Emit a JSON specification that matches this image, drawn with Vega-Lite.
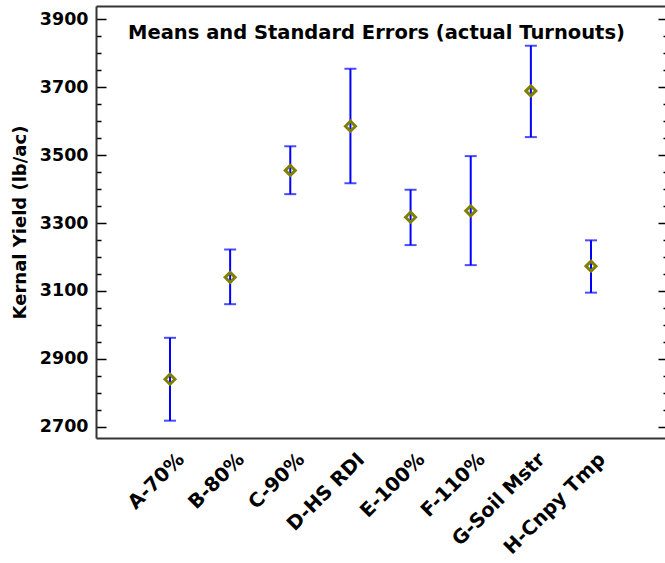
{
  "$schema": "https://vega.github.io/schema/vega-lite/v6.json",
  "width": 569,
  "height": 432,
  "autosize": {"type": "none"},
  "padding": {"left": 96, "top": 6, "right": 0, "bottom": 125},
  "background": "white",
  "config": {"view": {"stroke": null}, "font": "DejaVu Sans"},
  "title": {
    "text": "Means and Standard Errors (actual Turnouts)",
    "font": "DejaVu Sans",
    "fontSize": 19.5,
    "fontWeight": "bold",
    "color": "black",
    "anchor": "middle",
    "baseline": "alphabetic",
    "offset": -33,
    "dy": 19,
    "dx": -4
  },
  "data": {
    "values": [
      {"treatment": "A-70%", "mean": 2840, "lo": 2718, "hi": 2962},
      {"treatment": "B-80%", "mean": 3140, "lo": 3061, "hi": 3222},
      {"treatment": "C-90%", "mean": 3455, "lo": 3385, "hi": 3526},
      {"treatment": "D-HS RDI", "mean": 3585, "lo": 3417, "hi": 3754},
      {"treatment": "E-100%", "mean": 3317, "lo": 3235, "hi": 3398},
      {"treatment": "F-110%", "mean": 3336, "lo": 3176, "hi": 3497},
      {"treatment": "G-Soil Mstr", "mean": 3689, "lo": 3553, "hi": 3822},
      {"treatment": "H-Cnpy Tmp", "mean": 3173, "lo": 3095, "hi": 3249}
    ]
  },
  "layer": [
    {
      "mark": {"type": "rule", "color": "#0000ff", "strokeWidth": 2},
      "encoding": {
        "x": {
          "field": "treatment", "type": "nominal", "sort": null,
          "scale": {"type": "band", "paddingInner": 0, "paddingOuter": 0.73},
          "axis": {
            "orient": "bottom", "labelAngle": -45, "labelAlign": "right", "labelBaseline": "middle",
            "ticks": false, "domain": true, "domainColor": "#333333", "domainWidth": 2,
            "labelFont": "DejaVu Sans", "labelFontSize": 19.5, "labelFontWeight": "bold", "labelColor": "black",
            "labelPadding": 18, "labelOffset": 11, "title": null, "grid": false
          }
        },
        "y": {
          "field": "lo", "type": "quantitative",
          "scale": {"domain": [2667, 3939], "nice": false, "zero": false},
          "axis": {
            "orient": "left",
            "values": [2700, 2750, 2800, 2850, 2900, 2950, 3000, 3050, 3100, 3150, 3200, 3250, 3300, 3350, 3400, 3450, 3500, 3550, 3600, 3650, 3700, 3750, 3800, 3850, 3900],
            "format": "d",
            "labelExpr": "datum.value % 200 === 100 ? datum.label : ''",
            "tickSize": {"condition": {"test": "datum.value % 200 === 100", "value": -10}, "value": -5},
            "tickColor": "black", "tickWidth": 1.5,
            "domain": true, "domainColor": "#333333", "domainWidth": 2, "grid": false,
            "labelFont": "DejaVu Sans", "labelFontWeight": "bold", "labelFontSize": 17.5, "labelColor": "black",
            "labelPadding": 18,
            "title": "Kernal Yield (lb/ac)", "titleFont": "DejaVu Sans", "titleFontSize": 18,
            "titleFontWeight": "bold", "titleColor": "black", "titlePadding": 10
          }
        },
        "y2": {"field": "hi"}
      }
    },
    {
      "mark": {"type": "tick", "color": "#0000ff", "thickness": 2, "size": 12},
      "encoding": {
        "x": {
          "field": "treatment", "type": "nominal", "sort": null,
          "scale": {"type": "band", "paddingInner": 0, "paddingOuter": 0.73},
          "axis": {"orient": "top", "labels": false, "ticks": false, "domain": true, "domainColor": "#333333", "domainWidth": 2, "title": null, "grid": false}
        },
        "y": {
          "field": "hi", "type": "quantitative",
          "scale": {"domain": [2667, 3939], "nice": false, "zero": false},
          "axis": {
            "orient": "right",
            "values": [2700, 2750, 2800, 2850, 2900, 2950, 3000, 3050, 3100, 3150, 3200, 3250, 3300, 3350, 3400, 3450, 3500, 3550, 3600, 3650, 3700, 3750, 3800, 3850, 3900],
            "labels": false,
            "tickSize": {"condition": {"test": "datum.value % 200 === 100", "value": -10}, "value": -5},
            "tickColor": "black", "tickWidth": 1.5,
            "domain": false, "grid": false, "title": null, "offset": 3
          }
        }
      }
    },
    {
      "mark": {"type": "tick", "color": "#0000ff", "thickness": 2, "size": 12},
      "encoding": {
        "x": {"field": "treatment", "type": "nominal", "sort": null, "scale": {"type": "band", "paddingInner": 0, "paddingOuter": 0.73}, "axis": null},
        "y": {"field": "lo", "type": "quantitative", "scale": {"domain": [2667, 3939], "nice": false, "zero": false}, "axis": null}
      }
    },
    {
      "mark": {"type": "point", "shape": "diamond", "filled": false, "stroke": "#7f7f00", "strokeWidth": 3, "size": 100, "opacity": 1},
      "encoding": {
        "x": {"field": "treatment", "type": "nominal", "sort": null, "scale": {"type": "band", "paddingInner": 0, "paddingOuter": 0.73}, "axis": null},
        "y": {"field": "mean", "type": "quantitative", "scale": {"domain": [2667, 3939], "nice": false, "zero": false}, "axis": null}
      }
    }
  ],
  "resolve": {"axis": {"x": "independent", "y": "independent"}}
}
